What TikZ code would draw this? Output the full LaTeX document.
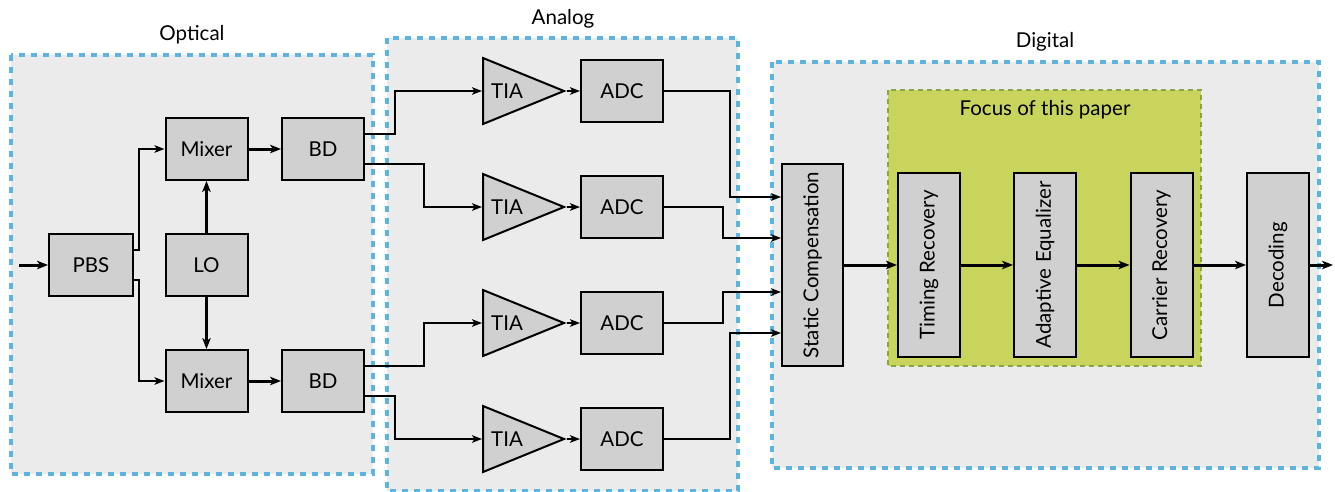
\documentclass[tikz,border=0pt]{standalone}
\usepackage{fontspec}
\setmainfont{Lato}
\usepackage{graphicx}
\usetikzlibrary{arrows.meta,shapes.geometric,calc}
\definecolor{regionfill}{HTML}{EBEBEB}
\definecolor{regionline}{HTML}{5DB4DE}
\definecolor{boxfill}{HTML}{D0D0D0}
\definecolor{focusfill}{HTML}{C9D45C}
\definecolor{focusline}{HTML}{88A447}
\newcommand\dfont{\fontsize{20.5}{24}\selectfont}
\begin{document}
\begin{tikzpicture}[x=1pt,y=-1pt,font=\dfont,
  region/.style={draw=regionline,fill=regionfill,line width=3.2pt,dash pattern=on 6pt off 6pt},
  focusbox/.style={draw=focusline,fill=focusfill,line width=2.4pt,dash pattern=on 5pt off 4pt},
  blk/.style={draw=black,fill=boxfill,line width=2pt,inner sep=0pt,minimum width=82pt,minimum height=62pt},
  tall/.style={draw=black,fill=boxfill,line width=2pt,inner sep=0pt,minimum width=62pt,minimum height=184pt},
  tri/.style={draw=black,fill=boxfill,line width=2pt,inner sep=0pt,isosceles triangle,isosceles triangle stretches,minimum height=81pt,minimum width=66pt},
  arr/.style={line width=2pt,-{Stealth[length=10pt,width=7.5pt,inset=2.5pt]}},
  thickarr/.style={line width=3pt,-{Stealth[length=11pt,width=8.5pt,inset=3pt]}}]
\useasboundingbox (0,0) rectangle (1335,492);
% regions
\draw[region] (11,55) rectangle (373,474);
\draw[region] (387,38) rectangle (738,491);
\draw[region] (772,62) rectangle (1319,468);
\draw[focusbox] (888,90) rectangle (1201,366);
\node (lopt) at (192,35) {Optical};
\node (lana) at (563,19) {Analog};
\node (ldig) at (1045,42) {Digital};
\node (lfoc) at (1045,110) {Focus of this paper};
% optical
\node[blk,minimum width=84pt] (pbs) at (91,265) {PBS};
\node[blk] (mix1) at (206.5,149) {Mixer};
\node[blk] (bd1) at (323,149) {BD};
\node[blk] (lo) at (206.5,265) {LO};
\node[blk] (mix2) at (206.5,381) {Mixer};
\node[blk] (bd2) at (323,381) {BD};
% analog
\foreach \i/\y in {1/91,2/207,3/323,4/439}{
  \node[tri,anchor=west] (tia\i) at (482,\y) {};
  \node (tiat\i) at (507,\y) {TIA};
  \node[blk] (adc\i) at (622,\y) {ADC};
  \draw[arr] (tia\i.east) -- (adc\i.west);
}
% digital
\node[draw=black,fill=boxfill,line width=2pt,inner sep=0pt,minimum width=61pt,minimum height=202pt] (sc) at (812.5,265) {\rotatebox{90}{Static Compensation}};
\node[tall] (tim) at (929,265) {\rotatebox{90}{Timing Recovery}};
\node[tall] (adq) at (1045,265) {\rotatebox{90}{Adaptive Equalizer}};
\node[tall] (car) at (1161.5,265) {\rotatebox{90}{Carrier Recovery}};
\node[tall] (dec) at (1278,265) {\rotatebox{90}{Decoding}};
\coordinate (in) at (19,265);
\coordinate (out) at (1333,265);
% connectors
\draw[thickarr] (in) -- (pbs.west);
\draw[arr] ([yshift=15pt]pbs.east) -- ++(5,0) |- (mix1.west);
\draw[arr] ([yshift=-15pt]pbs.east) -- ++(5,0) |- (mix2.west);
\draw[thickarr] (mix1) -- (bd1);
\draw[thickarr] (mix2) -- (bd2);
\draw[thickarr] (lo) -- (mix1);
\draw[thickarr] (lo) -- (mix2);
\draw[arr] ([yshift=15pt]bd1.east) -- ++(30,0) |- (tia1.west);
\draw[arr] ([yshift=-15pt]bd1.east) -- ++(59,0) |- (tia2.west);
\draw[arr] ([yshift=15pt]bd2.east) -- ++(59,0) |- (tia3.west);
\draw[arr] ([yshift=-15pt]bd2.east) -- ++(30,0) |- (tia4.west);
\draw[arr] (adc1.east) -- ++(66,0) |- ([yshift=68pt]sc.west);
\draw[arr] (adc2.east) -- ++(59,0) |- ([yshift=27pt]sc.west);
\draw[arr] (adc3.east) -- ++(59,0) |- ([yshift=-27pt]sc.west);
\draw[arr] (adc4.east) -- ++(66,0) |- ([yshift=-68pt]sc.west);
\draw[thickarr] (sc) -- (tim);
\draw[thickarr] (tim) -- (adq);
\draw[thickarr] (adq) -- (car);
\draw[thickarr] (car) -- (dec);
\draw[thickarr] (dec) -- (out);
\end{tikzpicture}
\end{document}
